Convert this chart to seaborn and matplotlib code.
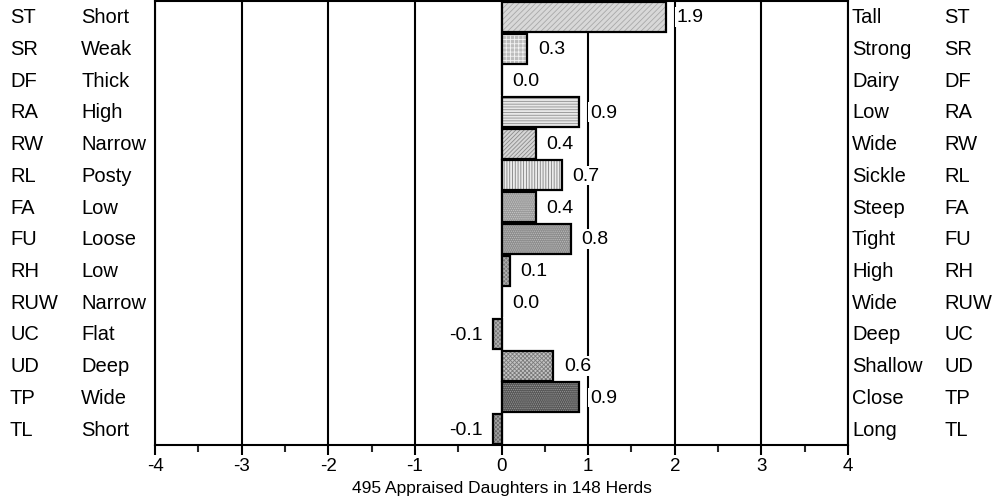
import numpy as np
import pandas as pd
import matplotlib
matplotlib.use("Agg")
import matplotlib.pyplot as plt
import matplotlib.transforms as mtransforms
from matplotlib.ticker import MultipleLocator
import seaborn as sns

sns.set_theme(style="white")
plt.rcParams['font.family'] = ['Liberation Sans', 'DejaVu Sans']
plt.rcParams['hatch.linewidth'] = 0.6
plt.rcParams['axes.unicode_minus'] = False
plt.rcParams['text.color'] = 'black'
plt.rcParams['axes.labelcolor'] = 'black'

# trait codes and the two ends of each linear scale
codes = ["ST", "SR", "DF", "RA", "RW", "RL", "FA", "FU", "RH", "RUW", "UC", "UD", "TP", "TL"]
low_desc = ["Short", "Weak", "Thick", "High", "Narrow", "Posty", "Low", "Loose", "Low",
            "Narrow", "Flat", "Deep", "Wide", "Short"]
high_desc = ["Tall", "Strong", "Dairy", "Low", "Wide", "Sickle", "Steep", "Tight", "High",
             "Wide", "Deep", "Shallow", "Close", "Long"]
values = [1.9, 0.3, 0.0, 0.9, 0.4, 0.7, 0.4, 0.8, 0.1, 0.0, -0.1, 0.6, 0.9, -0.1]

# fill shade / hatch pattern for each bar
fills = ["#d8d8d8", "#bdbdbd", "#ffffff", "#e8e8e8", "#d6d6d6", "#ececec", "#9a9a9a",
         "#8c8c8c", "#7a7a7a", "#ffffff", "#777777", "#c4c4c4", "#555555", "#666666"]
hatches = ["//////", "++++", "", "------", "////////", "||||||", "........", "........",
           "xxxxxxxx", "", "xxxxxxxx", "xxxxxxxx", "........", "xxxxxxxx"]
hatch_cols = ["#a8a8a8", "#f4f4f4", "#ffffff", "#909090", "#8a8a8a", "#808080", "#c8c8c8",
              "#bdbdbd", "#b0b0b0", "#ffffff", "#b0b0b0", "#7a7a7a", "#9a9a9a", "#a0a0a0"]

df = pd.DataFrame({"code": codes, "value": values})

fig = plt.figure(figsize=(9.97, 5.02), dpi=100)
ax = fig.add_axes([155 / 997, 1 - 446 / 502, (848 - 155) / 997, 444 / 502])

# filled, hatched bars
sns.barplot(data=df, x="value", y="code", orient="h", width=0.95, ax=ax,
            color="white", linewidth=0, zorder=2)
for p, fc, h, hc in zip(ax.patches, fills, hatches, hatch_cols):
    p.set_facecolor(fc)
    p.set_hatch(h)
    p.set_edgecolor(hc)
    p.set_linewidth(0)
# black outlines on top
sns.barplot(data=df, x="value", y="code", orient="h", width=0.95, ax=ax,
            fill=False, edgecolor="black", linewidth=1.6, zorder=3)

ax.set_xlim(-4, 4)
ax.xaxis.set_major_locator(MultipleLocator(1))
ax.xaxis.set_minor_locator(MultipleLocator(0.5))
ax.grid(axis="x", which="major", color="black", linewidth=1.5, zorder=0)
ax.set_axisbelow(True)
ax.tick_params(axis="x", which="major", direction="out", length=7, width=1.5,
               bottom=True, labelsize=13.5, colors="black", pad=2)
ax.tick_params(axis="x", which="minor", direction="out", length=5, width=1.5, bottom=True)
ax.set_yticks([])
ax.set_ylabel("")
ax.set_xlabel("495 Appraised Daughters in 148 Herds", fontsize=12.5, labelpad=4)
for s in ax.spines.values():
    s.set_color("black")
    s.set_linewidth(1.5)

# value labels beside each bar
for i, v in enumerate(values):
    if v < 0:
        ax.text(v - 0.12, i, f"{v:.1f}", ha="right", va="center", fontsize=14, zorder=4,
                bbox=dict(facecolor="white", edgecolor="none", pad=1))
    else:
        ax.text(v + 0.12, i, f"{v:.1f}", ha="left", va="center", fontsize=14, zorder=4,
                bbox=dict(facecolor="white", edgecolor="none", pad=1))

# trait names on both sides
trans = mtransforms.blended_transform_factory(fig.transFigure, ax.transData)
for i in range(len(codes)):
    ax.text(10 / 997, i, codes[i], transform=trans, ha="left", va="center", fontsize=14.5)
    ax.text(81 / 997, i, low_desc[i], transform=trans, ha="left", va="center", fontsize=14.5)
    ax.text(852 / 997, i, high_desc[i], transform=trans, ha="left", va="center", fontsize=14.5)
    ax.text(944 / 997, i, codes[i], transform=trans, ha="left", va="center", fontsize=14.5)

fig.savefig("out.png", dpi=100)
